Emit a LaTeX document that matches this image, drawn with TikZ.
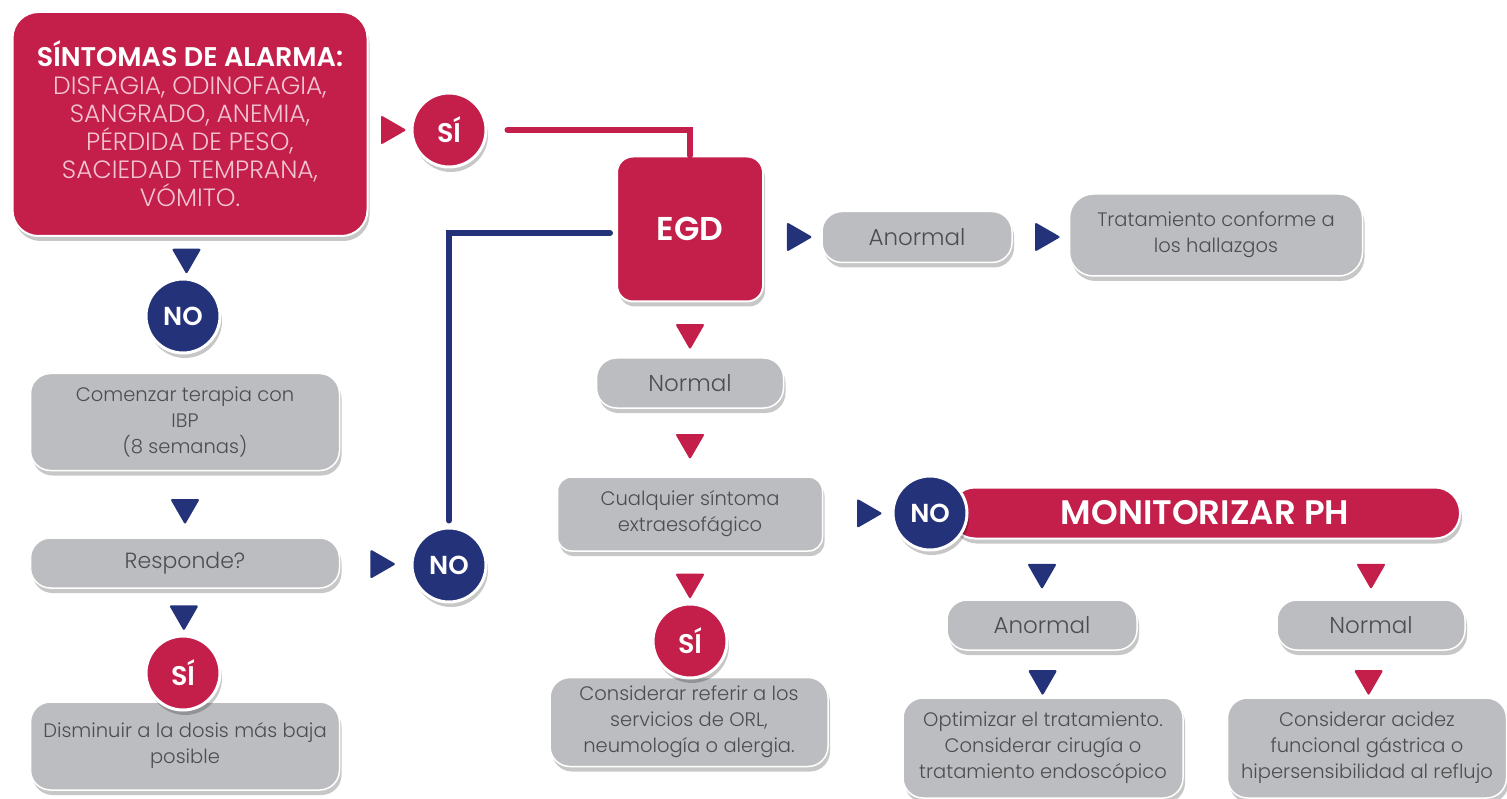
\documentclass[tikz,border=0pt]{standalone}
\usepackage{fontspec}
\setmainfont{Poppins}[UprightFont=* Light, BoldFont=* SemiBold]
\usetikzlibrary{shapes.geometric,shadows,positioning}

\definecolor{alarmred}{RGB}{196,30,74}
\definecolor{navy}{RGB}{36,50,122}
\definecolor{boxgray}{RGB}{188,189,192}
\definecolor{textgray}{RGB}{77,77,79}
\definecolor{palepink}{RGB}{242,196,210}

\tikzset{
  softshadow/.style={drop shadow={shadow xshift=2pt, shadow yshift=-5pt, opacity=0.22, fill=black}},
  graybox/.style={softshadow, draw=white, line width=1.5pt, fill=boxgray, rounded corners=20pt,
    text=textgray, align=center, inner sep=0pt, font=\fontsize{19.5}{26}\selectfont},
  redbox/.style={softshadow, draw=white, line width=2pt, fill=alarmred, align=center, inner sep=0pt},
  yesdot/.style={circle, softshadow, draw=white, line width=3pt, fill=alarmred, text=white,
    minimum size=74pt, inner sep=0pt, font=\bfseries\fontsize{27}{27}\selectfont},
  nodot/.style={yesdot, fill=navy, font=\bfseries\fontsize{26}{26}\selectfont},
  tri/.style={regular polygon, regular polygon sides=3, inner sep=0pt, minimum size=34pt, rounded corners=2pt},
  tridn/.style={tri, shape border rotate=180},
  trirt/.style={tri, shape border rotate=-90},
  link/.style={line width=6pt, line cap=round}
}

\begin{document}
\begin{tikzpicture}[x=1pt,y=-1pt]
\useasboundingbox (0,0) rectangle (1507,799);

% left column
\node [redbox, rounded corners=26pt, minimum width=355pt, minimum height=224pt, text=palepink,
  font=\fontsize{25}{28}\selectfont] (alarm) at (190,124)
  {{\bfseries\fontsize{27}{30}\selectfont\color{white}SÍNTOMAS DE ALARMA:}\\DISFAGIA, ODINOFAGIA,\\SANGRADO, ANEMIA,\\PÉRDIDA DE PESO,\\SACIEDAD TEMPRANA,\\VÓMITO.};
\node [nodot] (no1) at (183,316) {NO};
\node [graybox, minimum width=309pt, minimum height=97pt] (ibp) at (185,422) {Comenzar terapia con\\IBP\\(8 semanas)};
\node [graybox, minimum width=309pt, minimum height=50pt, font=\fontsize{22}{26}\selectfont] (resp) at (185,563) {Responde?};
\node [graybox, minimum width=309pt, minimum height=88pt] (dism) at (185,746) {Disminuir a la dosis más baja\\posible};
\node [yesdot] (si2) at (183,673) {SÍ};
\node [nodot] (no2) at (449,565) {NO};

% EGD column
\node [yesdot] (si1) at (449,130) {SÍ};
\node [redbox, rounded corners=16pt, minimum width=146pt, minimum height=145pt, text=white,
  font=\bfseries\fontsize{33}{33}\selectfont] (egd) at (690,229) {EGD};
\node [graybox, minimum width=190pt, minimum height=51pt, font=\fontsize{23}{26}\selectfont] (anorm1) at (917,237) {Anormal};
\node [graybox, minimum width=293pt, minimum height=82pt, rounded corners=24pt] (trat) at (1216,235) {Tratamiento conforme a\\los hallazgos};
\node [graybox, minimum width=187pt, minimum height=50pt, font=\fontsize{23}{26}\selectfont] (normal1) at (690,383) {Normal};
\node [graybox, minimum width=265pt, minimum height=74pt, rounded corners=14pt] (cualq) at (690,514) {Cualquier síntoma\\extraesofágico};
\node [graybox, minimum width=278pt, minimum height=89pt] (orl) at (689,722) {Considerar referir a los\\servicios de ORL,\\neumología o alergia.};
\node [yesdot] (si3) at (690,641) {SÍ};

% pH branch
\node [redbox, rounded corners=25pt, minimum width=510pt, minimum height=51pt, text=white,
  font=\bfseries\fontsize{34}{34}\selectfont] (phbar) at (1205,513) {MONITORIZAR PH};
\node [nodot] (no3) at (930,513) {NO};
\node [graybox, minimum width=190pt, minimum height=50pt, font=\fontsize{23}{26}\selectfont] (anorm2) at (1042,625) {Anormal};
\node [graybox, minimum width=188pt, minimum height=50pt, font=\fontsize{23}{26}\selectfont] (normal2) at (1371,625) {Normal};
\node [graybox, minimum width=280pt, minimum height=100pt] (optim) at (1043,748) {Optimizar el tratamiento.\\Considerar cirugía o\\tratamiento endoscópico};
\node [graybox, minimum width=279pt, minimum height=100pt] (acidez) at (1367,748) {Considerar acidez\\funcional gástrica o\\hipersensibilidad al reflujo};

% lines
\draw [link, alarmred, shorten <=20pt] (si1.east) -| (egd.north);
\draw [link, navy, shorten <=6pt, shorten >=6pt] (no2.north) |- ([yshift=-4pt]egd.west);

% arrow heads
\path (alarm.east |- si1.west) -- node [trirt, fill=alarmred] (t1) {} (si1.west);
\path (alarm.south) -- node [tridn, fill=navy] (t2) {} (no1.north);
\path (ibp.south) -- node [tridn, fill=navy, pos=0.55] (t3) {} (resp.north);
\path (resp.east) -- node [trirt, fill=navy, pos=0.55] (t4) {} (no2.west);
\path (resp.south) -- node [tridn, fill=navy, pos=0.55] (t5) {} (si2.north);
\path (egd.east |- anorm1.west) -- node [trirt, fill=navy, pos=0.55] (t6) {} (anorm1.west);
\path (anorm1.east) -- node [trirt, fill=navy, pos=0.55] (t7) {} (trat.west |- anorm1.east);
\path (egd.south) -- node [tridn, fill=alarmred, pos=0.55] (t8) {} (normal1.north);
\path (normal1.south) -- node [tridn, fill=alarmred] (t9) {} (cualq.north);
\path (cualq.east) -- node [trirt, fill=navy, pos=0.62] (t10) {} (no3.west);
\path (cualq.south) -- node [tridn, fill=alarmred, pos=0.6] (t11) {} (si3.north);
\path (phbar.south -| anorm2.north) -- node [tridn, fill=navy, pos=0.55] (t12) {} (anorm2.north);
\path (anorm2.south) -- node [tridn, fill=navy, pos=0.6] (t13) {} (optim.north);
\path (phbar.south -| normal2.north) -- node [tridn, fill=alarmred, pos=0.55] (t14) {} (normal2.north);
\path (normal2.south) -- node [tridn, fill=alarmred, pos=0.6] (t15) {} (acidez.north);
\end{tikzpicture}
\end{document}
